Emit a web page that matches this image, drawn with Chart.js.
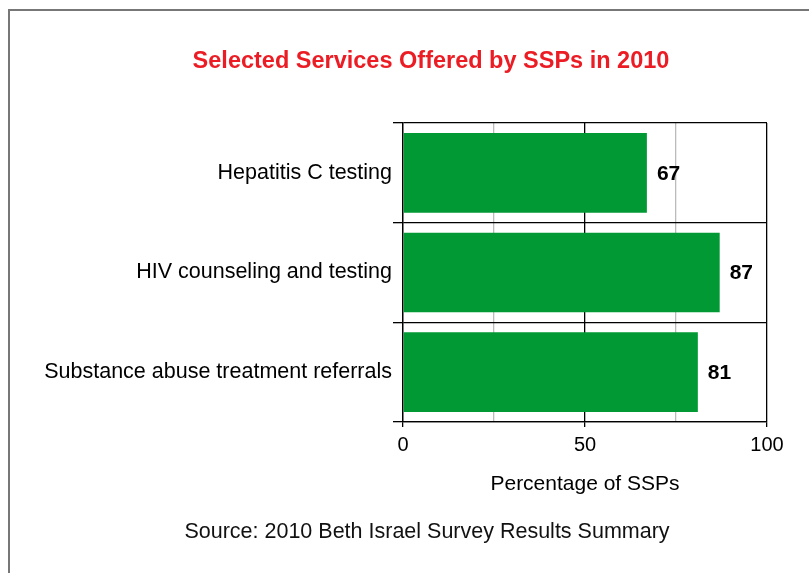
<!DOCTYPE html>
<html>
<head>
<meta charset="utf-8">
<script src="https://cdn.jsdelivr.net/npm/chart.js@4"></script>
<style>
  html, body { margin: 0; padding: 0; background: #fff; }
  #wrap { position: relative; width: 809px; height: 573px; overflow: hidden; }
  /* grey frame, top and left edges only visible */
  #frame { position: absolute; left: 8px; top: 9px; width: 900px; height: 700px;
           border-top: 2px solid #777; border-left: 2px solid #777; }
  #myChart { position: absolute; left: 0; top: 0; }
</style>
</head>
<body>
<div id="wrap">
  <div id="frame"></div>
  <canvas id="myChart" width="809" height="573"></canvas>
</div>
<script>
// данные с картинки
const categories = ['Hepatitis C testing', 'HIV counseling and testing', 'Substance abuse treatment referrals'];
const percentValues = [67, 87, 81];
const tickLabels = [0, 50, 100];

const chartTitle = 'Selected Services Offered by SSPs in 2010';
const sourceText = 'Source: 2010 Beth Israel Survey Results Summary';

const FONT = '"Liberation Sans", Arial, Helvetica, sans-serif';

// подписи значений справа от столбиков
const valueLabels = {
    id: 'valueLabels',
    afterDatasetsDraw(chart) {
        const ctx = chart.ctx;
        const meta = chart.getDatasetMeta(0);
        ctx.save();
        ctx.font = 'bold 21px ' + FONT;
        ctx.fillStyle = '#000';
        ctx.textAlign = 'left';
        ctx.textBaseline = 'middle';
        meta.data.forEach(function (bar, i) {
            ctx.fillText(String(percentValues[i]), bar.x + 10, bar.y + 1);
        });
        ctx.restore();
    }
};

// заголовок и источник (центр смещён относительно холста)
const headerFooter = {
    id: 'headerFooter',
    afterDraw(chart) {
        const ctx = chart.ctx;
        ctx.save();
        ctx.textAlign = 'center';
        ctx.textBaseline = 'middle';
        ctx.font = 'bold 23.5px ' + FONT;
        ctx.fillStyle = '#ec1c24';
        ctx.fillText(chartTitle, 431, 62);
        ctx.font = '21.5px ' + FONT;
        ctx.fillStyle = '#111';
        ctx.fillText(sourceText, 427, 532);
        ctx.restore();
    }
};

const ctx = document.getElementById('myChart').getContext('2d');
const myChart = new Chart(ctx, {
    type: 'bar',
    data: {
        labels: categories,
        datasets: [{
            data: percentValues,
            backgroundColor: '#009933',
            borderWidth: 0,
            categoryPercentage: 0.8,
            barPercentage: 1
        }]
    },
    options: {
        indexAxis: 'y',
        responsive: false,
        animation: false,
        layout: { padding: { left: 0, right: 42, top: 123, bottom: 71 } },
        plugins: {
            legend: { display: false },
            tooltip: { enabled: false },
            title: { display: false }
        },
        scales: {
            x: {
                min: 0,
                max: 100,
                afterFit: function (scale) { scale.height = 80; },
                ticks: {
                    stepSize: 25,
                    color: '#000',
                    font: { family: FONT, size: 20 },
                    padding: 6,
                    maxRotation: 0,
                    callback: function (v) { return tickLabels.includes(v) ? String(v) : ''; }
                },
                grid: {
                    color: function (c) { return c.tick && c.tick.value % 50 === 0 ? '#000' : '#bbb'; },
                    tickColor: function (c) { return c.tick && c.tick.value % 50 === 0 ? '#000' : 'rgba(0,0,0,0)'; },
                    tickLength: 5,
                    lineWidth: 1.3
                },
                border: { color: '#000', width: 1.3 },
                title: {
                    display: true,
                    text: 'Percentage of SSPs',
                    color: '#000',
                    font: { family: FONT, size: 21, lineHeight: 1.2 },
                    padding: { top: 0, bottom: 5 }
                }
            },
            y: {
                afterFit: function (scale) { scale.width = 403; },
                ticks: {
                    color: '#000',
                    font: { family: FONT, size: 21.5 },
                    padding: 1
                },
                grid: {
                    color: '#000',
                    tickLength: 10,
                    lineWidth: 1.3,
                    offset: true
                },
                border: { color: '#000', width: 1.3 }
            }
        }
    },
    plugins: [valueLabels, headerFooter]
});
</script>
</body>
</html>
